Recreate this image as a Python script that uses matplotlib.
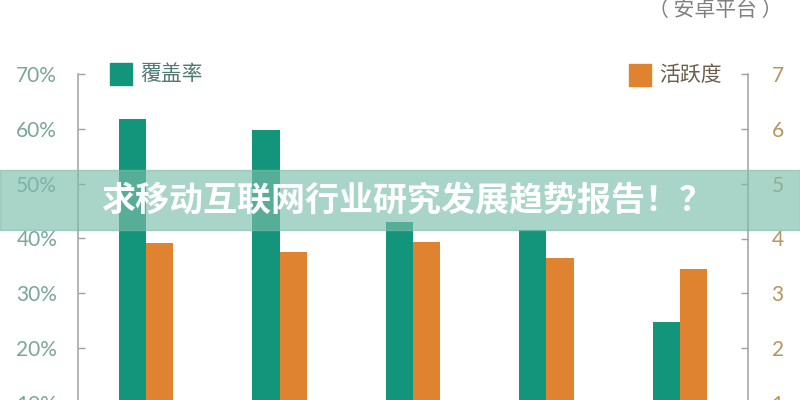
import matplotlib
matplotlib.use("Agg")
import matplotlib.pyplot as plt
from matplotlib.patches import Rectangle

plt.rcParams['font.family'] = ['Noto Sans CJK SC', 'DejaVu Sans']

# data (left axis in %, right axis 1-7 scale)
groups = ['1', '2', '3', '4', '5']
coverage = [61.8, 59.8, 43.1, 41.5, 24.7]
activity = [3.91, 3.75, 3.93, 3.65, 3.45]
left_ticks = [10, 20, 30, 40, 50, 60, 70]
right_ticks = [1, 2, 3, 4, 5, 6, 7]

teal = '#12957a'
orange = '#df8330'
spine_grey = '#a0a0a0'

fig = plt.figure(figsize=(8, 4), dpi=100)
ax = fig.add_axes([0.0975, -0.0075, 0.8375, 0.8225])
ax2 = ax.twinx()

x = list(range(len(groups)))
w = 0.205
ax.bar([i - w / 2 for i in x], coverage, width=w, color=teal, zorder=2)
ax2.bar([i + w / 2 for i in x], activity, width=w, color=orange, zorder=2)

ax.set_xlim(-0.51, 4.51)
ax.set_ylim(10, 70)
ax2.set_ylim(1, 7)
ax.set_xticks([])

ax.set_yticks(left_ticks)
ax.set_yticklabels([f'{t}%' for t in left_ticks])
ax2.set_yticks(right_ticks)

for a in (ax, ax2):
    for s in ('top', 'bottom'):
        a.spines[s].set_visible(False)
ax.spines['right'].set_visible(False)
ax2.spines['left'].set_visible(False)
ax.spines['left'].set_color(spine_grey)
ax2.spines['right'].set_color(spine_grey)
ax.spines['left'].set_linewidth(1.1)
ax2.spines['right'].set_linewidth(1.1)

ax.tick_params(axis='y', direction='in', length=5, width=1, color=spine_grey,
               pad=15, labelsize=15, labelcolor='#7aa69b')
ax2.tick_params(axis='y', direction='in', length=5, width=1, color=spine_grey,
                pad=17, labelsize=15, labelcolor='#b8945c')
for lab in ax.get_yticklabels() + ax2.get_yticklabels():
    lab.set_fontfamily(['Lato', 'DejaVu Sans'])

# legend entries placed like the original (top-left / top-right)
fig.patches.append(Rectangle((110 / 800, 1 - 85 / 400), 22 / 800, 22 / 400,
                             transform=fig.transFigure, color=teal))
fig.text(140 / 800, 1 - 74 / 400, '覆盖率', fontsize=15, color='#4f7a71', va='center')
fig.patches.append(Rectangle((629 / 800, 1 - 86 / 400), 22 / 800, 22 / 400,
                             transform=fig.transFigure, color=orange))
fig.text(659 / 800, 1 - 75 / 400, '活跃度', fontsize=15, color='#6e5d4a', va='center')

fig.text(0.978, 1 - 10 / 400, '（ 安卓平台 ）', fontsize=15, color='#808080',
         ha='right', va='center')

# translucent title banner across the middle
fig.patches.append(Rectangle((0, 1 - 230 / 400), 1, 60 / 400, transform=fig.transFigure,
                             color='#7cbdab', alpha=0.65, zorder=5))
fig.text(0.509, 0.5, '求移动互联网行业研究发展趋势报告！？', fontsize=24.5, color='white',
         fontweight='bold', ha='center', va='center', zorder=6)

fig.savefig('out.png', dpi=100)
